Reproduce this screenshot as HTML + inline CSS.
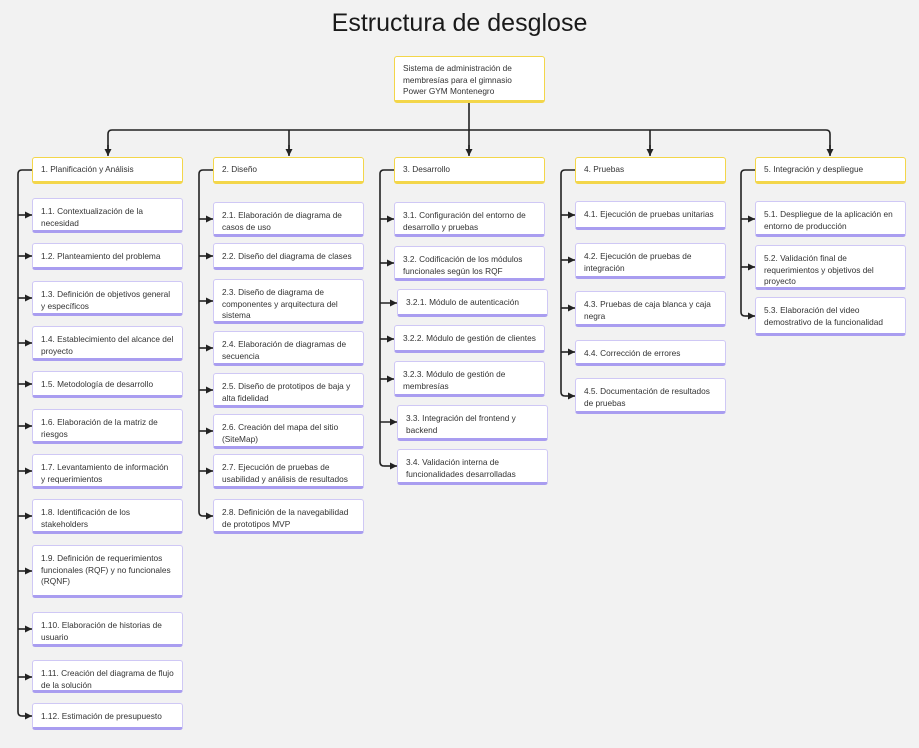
<!DOCTYPE html>
<html><head><meta charset="utf-8"><style>
body{margin:0;width:919px;height:748px;background:#f2f2f2;position:relative;overflow:hidden;font-family:"Liberation Sans","DejaVu Sans",sans-serif;}
.t{position:absolute;left:0;width:919px;top:9px;text-align:center;font-size:25px;color:#1a1a1a;}
.b{position:absolute;box-sizing:border-box;background:#fff;border:1px solid #cfc8f5;border-bottom:3px solid #a99df0;border-radius:3px;padding:7px 8px;font-size:8.3px;line-height:11.5px;color:#333;}
.h{border:1px solid #f3d64a;border-bottom:3px solid #f3d64a;padding:6px 8px;}
svg{position:absolute;left:0;top:0;}
</style></head><body>
<div class="t">Estructura de desglose</div>
<svg width="919" height="748" fill="none" stroke="#222" stroke-width="1.6">
<defs><marker id="a" markerUnits="userSpaceOnUse" markerWidth="8" markerHeight="8" refX="7" refY="4" orient="auto"><path d="M0,0.5 L7,4 L0,7.5 z" fill="#222" stroke="none"/></marker></defs>
<path d="M469,102 V130 M108,155 V134 Q108,130 112,130 H826 Q830,130 830,134 V155 M289,130 V155 M469,130 V155 M650,130 V155" />
<g marker-end="url(#a)"><path d="M108,145 V156"/><path d="M289,145 V156"/><path d="M469,145 V156"/><path d="M650,145 V156"/><path d="M830,145 V156"/></g>
<path d="M32,170 H22 Q18,170 18,174 V712 Q18,716 22,716"/>
<g marker-end="url(#a)">
<path d="M18,215 H32"/><path d="M18,256 H32"/><path d="M18,298 H32"/><path d="M18,343 H32"/><path d="M18,384 H32"/><path d="M18,426 H32"/><path d="M18,471 H32"/><path d="M18,516 H32"/><path d="M18,571 H32"/><path d="M18,629 H32"/><path d="M18,677 H32"/><path d="M22,716 H32"/>
</g>
<path d="M213,170 H203 Q199,170 199,174 V512 Q199,516 203,516"/>
<g marker-end="url(#a)">
<path d="M199,219 H213"/><path d="M199,256 H213"/><path d="M199,301 H213"/><path d="M199,348 H213"/><path d="M199,390 H213"/><path d="M199,431 H213"/><path d="M199,471 H213"/><path d="M203,516 H213"/>
</g>
<path d="M394,170 H384 Q380,170 380,174 V462 Q380,466 384,466"/>
<g marker-end="url(#a)">
<path d="M380,219 H394"/><path d="M380,263 H394"/><path d="M380,303 H397"/><path d="M380,339 H394"/><path d="M380,379 H394"/><path d="M380,422 H397"/><path d="M384,466 H397"/>
</g>
<path d="M575,170 H565 Q561,170 561,174 V392 Q561,396 565,396"/>
<g marker-end="url(#a)">
<path d="M561,215 H575"/><path d="M561,260 H575"/><path d="M561,308 H575"/><path d="M561,352 H575"/><path d="M565,396 H575"/>
</g>
<path d="M755,170 H745 Q741,170 741,174 V312 Q741,316 745,316"/>
<g marker-end="url(#a)">
<path d="M741,219 H755"/><path d="M741,267 H755"/><path d="M745,316 H755"/>
</g>
</svg>

<div class="b h" style="left:394px;top:56px;width:151px;height:47px;">Sistema de administración de membresías para el gimnasio Power GYM Montenegro</div>

<div class="b h" style="left:32px;top:157px;width:151px;height:27px;">1. Planificación y Análisis</div>
<div class="b h" style="left:213px;top:157px;width:151px;height:27px;">2. Diseño</div>
<div class="b h" style="left:394px;top:157px;width:151px;height:27px;">3. Desarrollo</div>
<div class="b h" style="left:575px;top:157px;width:151px;height:27px;">4. Pruebas</div>
<div class="b h" style="left:755px;top:157px;width:151px;height:27px;">5. Integración y despliegue</div>

<div class="b" style="left:32px;top:198px;width:151px;height:35px;">1.1. Contextualización de la necesidad</div>
<div class="b" style="left:32px;top:243px;width:151px;height:27px;">1.2. Planteamiento del problema</div>
<div class="b" style="left:32px;top:281px;width:151px;height:35px;">1.3. Definición de objetivos general y específicos</div>
<div class="b" style="left:32px;top:326px;width:151px;height:35px;">1.4. Establecimiento del alcance del proyecto</div>
<div class="b" style="left:32px;top:371px;width:151px;height:27px;">1.5. Metodología de desarrollo</div>
<div class="b" style="left:32px;top:409px;width:151px;height:35px;">1.6. Elaboración de la matriz de riesgos</div>
<div class="b" style="left:32px;top:454px;width:151px;height:35px;">1.7. Levantamiento de información y requerimientos</div>
<div class="b" style="left:32px;top:499px;width:151px;height:35px;">1.8. Identificación de los stakeholders</div>
<div class="b" style="left:32px;top:545px;width:151px;height:53px;">1.9. Definición de requerimientos funcionales (RQF) y no funcionales (RQNF)</div>
<div class="b" style="left:32px;top:612px;width:151px;height:35px;">1.10. Elaboración de historias de usuario</div>
<div class="b" style="left:32px;top:660px;width:151px;height:33px;">1.11. Creación del diagrama de flujo de la solución</div>
<div class="b" style="left:32px;top:703px;width:151px;height:27px;">1.12. Estimación de presupuesto</div>

<div class="b" style="left:213px;top:202px;width:151px;height:35px;">2.1. Elaboración de diagrama de casos de uso</div>
<div class="b" style="left:213px;top:243px;width:151px;height:27px;">2.2. Diseño del diagrama de clases</div>
<div class="b" style="left:213px;top:279px;width:151px;height:45px;">2.3. Diseño de diagrama de componentes y arquitectura del sistema</div>
<div class="b" style="left:213px;top:331px;width:151px;height:35px;">2.4. Elaboración de diagramas de secuencia</div>
<div class="b" style="left:213px;top:373px;width:151px;height:35px;">2.5. Diseño de prototipos de baja y alta fidelidad</div>
<div class="b" style="left:213px;top:414px;width:151px;height:35px;">2.6. Creación del mapa del sitio (SiteMap)</div>
<div class="b" style="left:213px;top:454px;width:151px;height:35px;">2.7. Ejecución de pruebas de usabilidad y análisis de resultados</div>
<div class="b" style="left:213px;top:499px;width:151px;height:35px;">2.8. Definición de la navegabilidad de prototipos MVP</div>

<div class="b" style="left:394px;top:202px;width:151px;height:35px;">3.1. Configuración del entorno de desarrollo y pruebas</div>
<div class="b" style="left:394px;top:246px;width:151px;height:35px;">3.2. Codificación de los módulos funcionales según los RQF</div>
<div class="b" style="left:397px;top:289px;width:151px;height:28px;">3.2.1. Módulo de autenticación</div>
<div class="b" style="left:394px;top:325px;width:151px;height:28px;">3.2.2. Módulo de gestión de clientes</div>
<div class="b" style="left:394px;top:361px;width:151px;height:36px;">3.2.3. Módulo de gestión de membresías</div>
<div class="b" style="left:397px;top:405px;width:151px;height:36px;">3.3. Integración del frontend y backend</div>
<div class="b" style="left:397px;top:449px;width:151px;height:36px;">3.4. Validación interna de funcionalidades desarrolladas</div>

<div class="b" style="left:575px;top:201px;width:151px;height:29px;">4.1. Ejecución de pruebas unitarias</div>
<div class="b" style="left:575px;top:243px;width:151px;height:36px;">4.2. Ejecución de pruebas de integración</div>
<div class="b" style="left:575px;top:291px;width:151px;height:36px;">4.3. Pruebas de caja blanca y caja negra</div>
<div class="b" style="left:575px;top:340px;width:151px;height:26px;">4.4. Corrección de errores</div>
<div class="b" style="left:575px;top:378px;width:151px;height:36px;">4.5. Documentación de resultados de pruebas</div>

<div class="b" style="left:755px;top:201px;width:151px;height:36px;">5.1. Despliegue de la aplicación en entorno de producción</div>
<div class="b" style="left:755px;top:245px;width:151px;height:45px;">5.2. Validación final de requerimientos y objetivos del proyecto</div>
<div class="b" style="left:755px;top:297px;width:151px;height:39px;">5.3. Elaboración del video demostrativo de la funcionalidad</div>
</body></html>
